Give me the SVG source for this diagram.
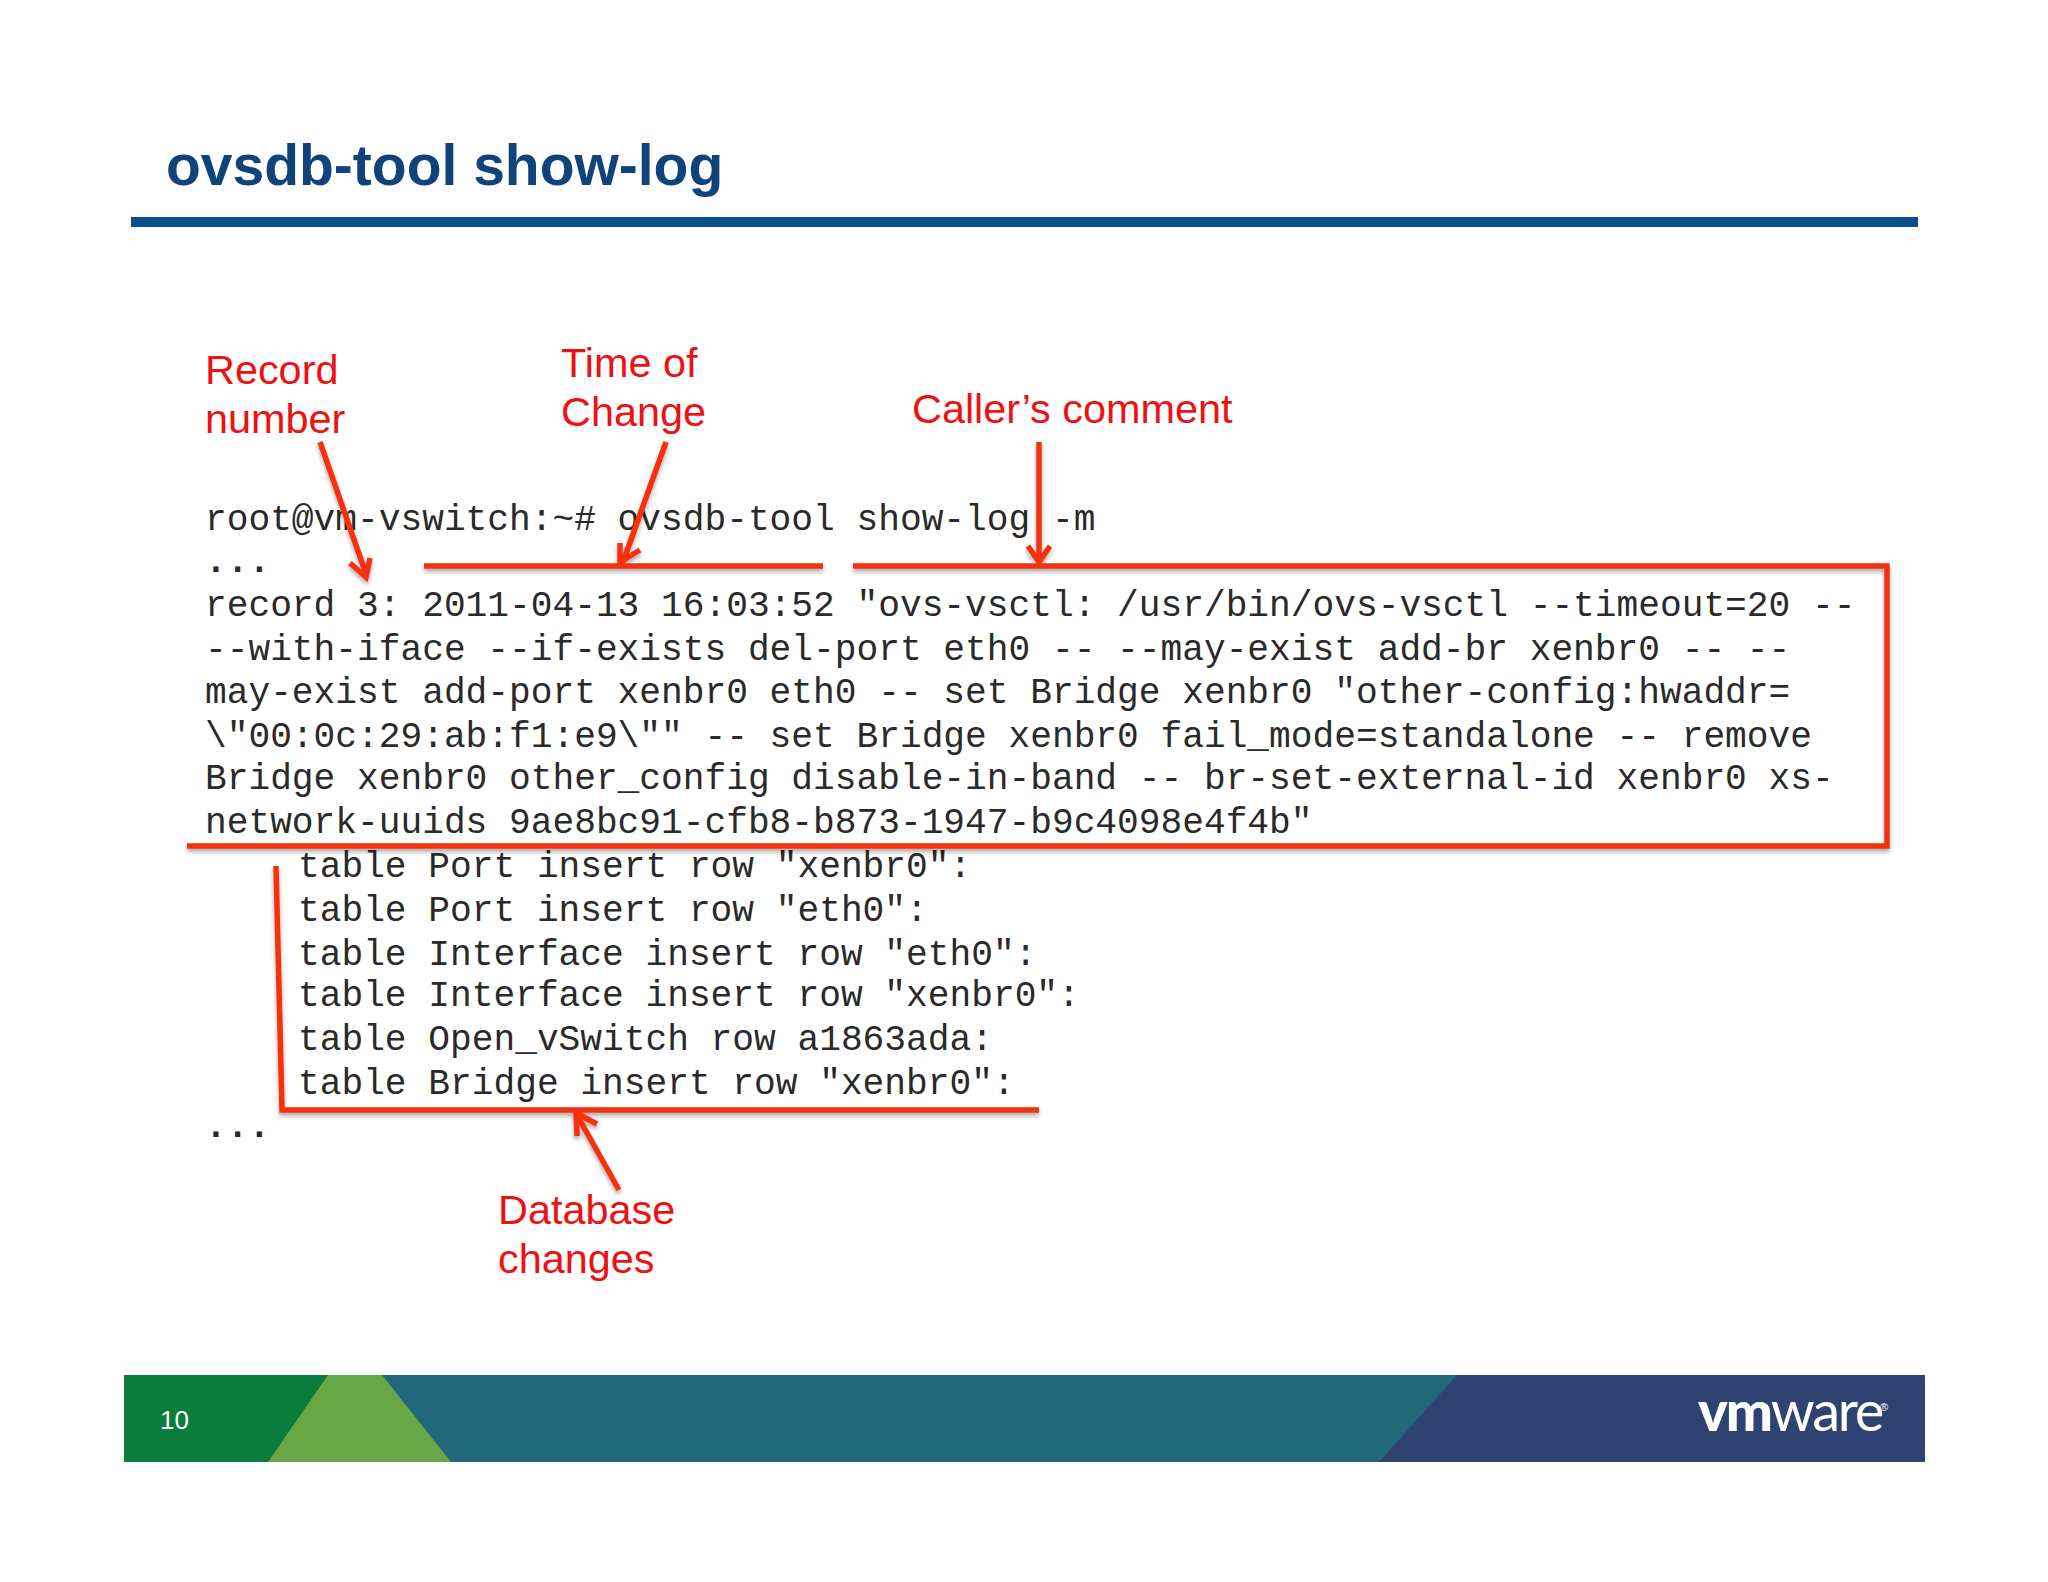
<svg xmlns="http://www.w3.org/2000/svg" width="2048" height="1582" viewBox="0 0 2048 1582">
<defs>
<filter id="sh" x="-5%" y="-5%" width="110%" height="110%"><feDropShadow dx="0" dy="3" stdDeviation="2" flood-color="#000" flood-opacity="0.35"/></filter>
</defs>
<style>
.code{font-family:"Liberation Mono",monospace;font-size:36.2px;fill:#2a2a2a;white-space:pre}
.dots{font-weight:700}
.note{font-family:"Liberation Sans",Arial,sans-serif;font-size:41.4px;fill:#ee1111}
.red{fill:none;stroke:#f5300e;stroke-width:5.5}
</style>
<rect width="2048" height="1582" fill="#fff"/>
<g id="title">
<text x="166" y="185" font-family="Liberation Sans,Arial,sans-serif" font-weight="700" font-size="57px" fill="#0f4379">ovsdb-tool show-log</text>
<rect x="131" y="217" width="1787" height="10" fill="#0a4f8b"/>
</g>
<g id="code">
<text class="code" x="205" y="530">root@vm-vswitch:~# ovsdb-tool show-log -m</text>
<text class="code dots" x="205" y="572">...</text>
<text class="code" x="205" y="616">record 3: 2011-04-13 16:03:52 "ovs-vsctl: /usr/bin/ovs-vsctl --timeout=20 --</text>
<text class="code" x="205" y="660">--with-iface --if-exists del-port eth0 -- --may-exist add-br xenbr0 -- --</text>
<text class="code" x="205" y="703">may-exist add-port xenbr0 eth0 -- set Bridge xenbr0 "other-config:hwaddr=</text>
<text class="code" x="205" y="747">\"00:0c:29:ab:f1:e9\"" -- set Bridge xenbr0 fail_mode=standalone -- remove</text>
<text class="code" x="205" y="789">Bridge xenbr0 other_config disable-in-band -- br-set-external-id xenbr0 xs-</text>
<text class="code" x="205" y="833">network-uuids 9ae8bc91-cfb8-b873-1947-b9c4098e4f4b"</text>
<text class="code" x="298" y="877">table Port insert row "xenbr0":</text>
<text class="code" x="298" y="921">table Port insert row "eth0":</text>
<text class="code" x="298" y="965">table Interface insert row "eth0":</text>
<text class="code" x="298" y="1006">table Interface insert row "xenbr0":</text>
<text class="code" x="298" y="1050">table Open_vSwitch row a1863ada:</text>
<text class="code" x="298" y="1094">table Bridge insert row "xenbr0":</text>
<text class="code dots" x="205" y="1137">...</text>
</g>
<g id="label-record"><text class="note" x="205" y="384">Record</text><text class="note" x="205" y="433">number</text></g>
<g id="label-time"><text class="note" x="561" y="377">Time of</text><text class="note" x="561" y="426">Change</text></g>
<g id="label-comment"><text class="note" x="912" y="423">Caller’s comment</text></g>
<g id="label-db"><text class="note" x="498" y="1224">Database</text><text class="note" x="498" y="1273">changes</text></g>
<g id="connectors" filter="url(#sh)">
<path class="red" d="M320 442 L366 574"/><path class="red" d="M350 563 L366 577 L370 558"/>
<path class="red" d="M666 442 L623 562"/><path class="red" d="M620 543 L620 562 L640 550"/>
<path class="red" d="M1039 442 L1039 560"/><path class="red" d="M1028 546 L1039 562 L1050 546"/>
<path class="red" d="M424 566 H823"/>
<path class="red" d="M853 566 H1887 V846 H187"/>
<path class="red" d="M276 866 L282 1110 H1039"/>
<path class="red" d="M619 1190 L577 1115"/><path class="red" d="M577 1136 L576 1113 L597 1124"/>
</g>
<g id="footer">
<rect x="124" y="1375" width="1801" height="87" fill="#2e4372"/>
<polygon points="124,1375 1457,1375 1379,1462 124,1462" fill="#20687a"/>
<polygon points="124,1375 328,1375 268,1462 124,1462" fill="#0c7c3c"/>
<polygon points="328,1375 382,1375 451,1462 268,1462" fill="#69a746"/>
<text x="160" y="1429" font-family="Liberation Sans,Arial,sans-serif" font-size="26px" fill="#fff">10</text>
<text x="1698" y="1431" font-family="Lato,Liberation Sans,sans-serif" font-size="56px" fill="#fff" letter-spacing="-2.2"><tspan font-weight="900">vm</tspan><tspan font-weight="400">ware</tspan></text>
<text x="1880" y="1411" font-family="Liberation Sans,sans-serif" font-size="11px" fill="#fff">®</text>
</g>
</svg>
